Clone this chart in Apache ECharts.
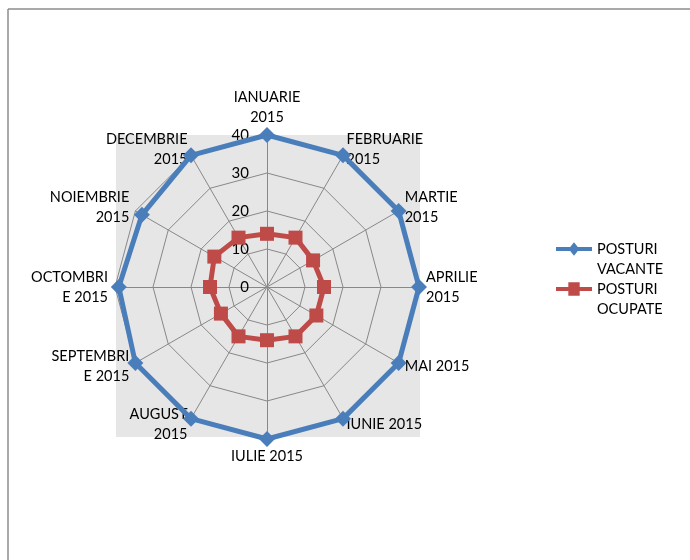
<!DOCTYPE html>
<html>
<head>
<meta charset="utf-8">
<script src="https://cdn.jsdelivr.net/npm/echarts@6/dist/echarts.min.js"></script>
<style>
  html, body { margin: 0; padding: 0; background: #fff; }
  #main { width: 690px; height: 560px; }
</style>
</head>
<body>
<div id="main"></div>
<script>
// categorii (luni) si valori
const months = [
  "IANUARIE\n2015", "FEBRUARIE\n2015", "MARTIE\n2015", "APRILIE\n2015",
  "MAI 2015", "IUNIE 2015", "IULIE 2015", "AUGUST\n2015",
  "SEPTEMBRI\nE 2015", "OCTOMBRI\nE 2015", "NOIEMBRIE\n2015", "DECEMBRIE\n2015"
];
const seriesNames = ["POSTURI\nVACANTE", "POSTURI\nOCUPATE"];
const vacante = [40, 40, 40, 40, 40, 40, 40, 40, 40, 39, 38, 40];
const ocupate = [14, 15, 14, 15, 15, 15, 14, 15, 14, 15, 16, 15];
const axisMax = 40;

// radarul ECharts merge in sens trigonometric -> inversam ordinea ca lunile sa mearga in sensul acelor de ceas
const order = months.map((m, i) => (i === 0 ? 0 : months.length - i));
const pick = arr => order.map(i => arr[i]);

const chart = echarts.init(document.getElementById("main"));
const font = "Lato, 'Open Sans', sans-serif";

chart.setOption({
  backgroundColor: "#fff",
  textStyle: { fontFamily: font },
  graphic: [
    // chenarul graficului (doar sus si stanga)
    { type: "line", shape: { x1: 8, y1: 9, x2: 690, y2: 9 }, style: { stroke: "#8c8c8c", lineWidth: 1.5 }, silent: true },
    { type: "line", shape: { x1: 8, y1: 9, x2: 8, y2: 560 }, style: { stroke: "#8c8c8c", lineWidth: 1.5 }, silent: true },
    // fundal gri al zonei de desenare
    { type: "rect", shape: { x: 116, y: 135, width: 304, height: 302 }, style: { fill: "#e6e6e6" }, z: -10, silent: true }
  ],
  legend: {
    orient: "vertical",
    left: 556,
    top: 219,
    padding: 0,
    itemWidth: 36,
    itemHeight: 14,
    itemGap: -20,
    // linie goala in fata ca primul rand sa stea in dreptul simbolului
    formatter: name => "\n" + name,
    textStyle: {
      fontFamily: font,
      fontSize: 14.5,
      color: "#000",
      lineHeight: 20
    },
    data: [
      { name: seriesNames[0], icon: "path://M0,5 L15,5 L19,0 L23,5 L38,5 L38,9 L23,9 L19,14 L15,9 L0,9 Z" },
      { name: seriesNames[1], icon: "path://M0,5 L13,5 L13,0 L25,0 L25,5 L38,5 L38,9 L25,9 L25,14 L13,14 L13,9 L0,9 Z" }
    ]
  },
  radar: {
    center: [267, 287],
    radius: 152,
    startAngle: 90,
    shape: "polygon",
    splitNumber: 4,
    nameGap: 7,
    axisName: {
      color: "#000",
      fontFamily: font,
      fontSize: 14.5,
      lineHeight: 20
    },
    axisLine: { lineStyle: { color: "#888", width: 1 } },
    splitLine: { lineStyle: { color: "#888", width: 1 } },
    splitArea: { show: false },
    axisLabel: { show: false },
    indicator: pick(months).map((m, i) => {
      const ind = { name: m, min: 0, max: axisMax };
      if (i === 0) {
        ind.axisLabel = {
          show: true,
          color: "#000",
          fontFamily: font,
          fontSize: 15,
          margin: 18,
          showMinLabel: true,
          showMaxLabel: true
        };
      }
      return ind;
    })
  },
  series: [{
    type: "radar",
    data: [
      {
        name: seriesNames[0],
        value: pick(vacante),
        symbol: "diamond",
        symbolSize: 16,
        itemStyle: { color: "#4a7ebb" },
        lineStyle: { color: "#4a7ebb", width: 5 }
      },
      {
        name: seriesNames[1],
        value: pick(ocupate),
        symbol: "rect",
        symbolSize: 14,
        itemStyle: { color: "#be4b48" },
        lineStyle: { color: "#be4b48", width: 5 }
      }
    ]
  }]
});
</script>
</body>
</html>
